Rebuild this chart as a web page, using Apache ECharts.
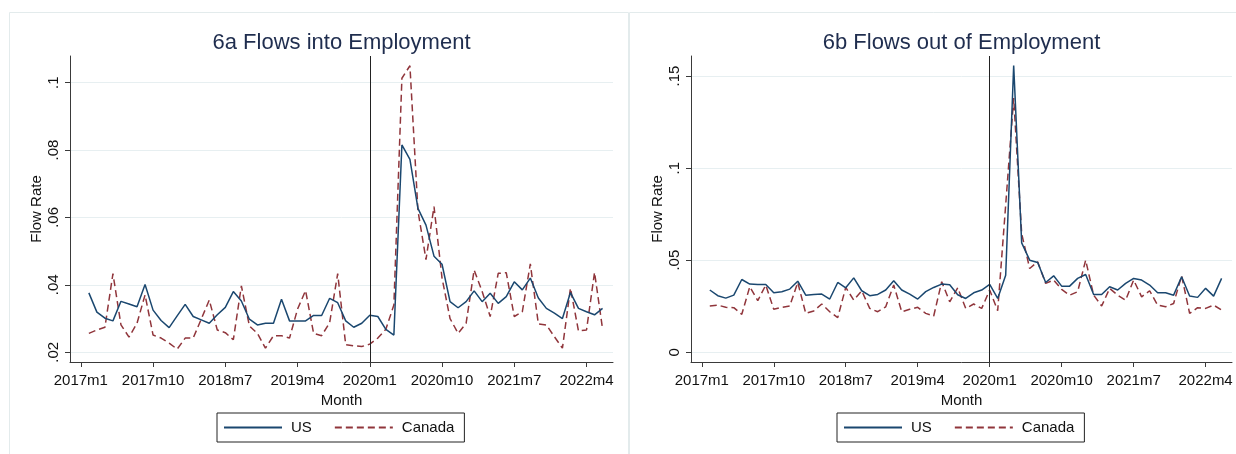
<!DOCTYPE html>
<html>
<head>
<meta charset="utf-8">
<script src="https://cdn.jsdelivr.net/npm/echarts@6/dist/echarts.min.js"></script>
<style>
  html, body { margin: 0; padding: 0; background: #ffffff; }
  #chart { width: 1236px; height: 454px; }
</style>
</head>
<body>
<div id="chart"></div>
<script>
// Monthly observations, 2017m2 .. 2022m6
const months = [
  '2017m2','2017m3','2017m4','2017m5','2017m6','2017m7','2017m8','2017m9','2017m10','2017m11','2017m12',
  '2018m1','2018m2','2018m3','2018m4','2018m5','2018m6','2018m7','2018m8','2018m9','2018m10','2018m11','2018m12',
  '2019m1','2019m2','2019m3','2019m4','2019m5','2019m6','2019m7','2019m8','2019m9','2019m10','2019m11','2019m12',
  '2020m1','2020m2','2020m3','2020m4','2020m5','2020m6','2020m7','2020m8','2020m9','2020m10','2020m11','2020m12',
  '2021m1','2021m2','2021m3','2021m4','2021m5','2021m6','2021m7','2021m8','2021m9','2021m10','2021m11','2021m12',
  '2022m1','2022m2','2022m3','2022m4','2022m5','2022m6'
];

// x-axis tick labels and the reference month marked by a vertical line
const tickMonths = ['2017m1','2017m10','2018m7','2019m4','2020m1','2020m10','2021m7','2022m4'];
const breakMonth = '2020m1';

// 6a: flows into employment
const intoUS = [
  0.0376,0.0319,0.0301,0.0293,0.0351,0.0343,0.0335,0.0401,0.0325,0.0294,0.0273,
  0.0308,0.0342,0.0306,0.0296,0.0286,0.0311,0.0333,0.0380,0.0352,0.0298,0.0281,0.0286,
  0.0286,0.0357,0.0293,0.0293,0.0293,0.0309,0.0309,0.0360,0.0347,0.0293,0.0274,0.0286,
  0.0310,0.0306,0.0268,0.0251,0.0815,0.0772,0.0627,0.0577,0.0485,0.0461,0.0350,0.0332,
  0.0350,0.0382,0.0350,0.0375,0.0345,0.0365,0.0409,0.0385,0.0420,0.0361,0.0330,0.0316,
  0.0300,0.0377,0.0330,0.0320,0.0311,0.0330
];
const intoCanada = [
  0.0256,0.0266,0.0274,0.0433,0.0281,0.0245,0.0286,0.0370,0.0251,0.0242,0.0227,
  0.0209,0.0242,0.0242,0.0298,0.0355,0.0266,0.0258,0.0237,0.0397,0.0278,0.0256,0.0212,
  0.0249,0.0249,0.0242,0.0328,0.0383,0.0256,0.0249,0.0288,0.0433,0.0222,0.0219,0.0217,
  0.0224,0.0242,0.0268,0.0340,0.1013,0.1050,0.0620,0.0475,0.0632,0.0420,0.0300,0.0256,
  0.0286,0.0444,0.0380,0.0306,0.0434,0.0436,0.0306,0.0320,0.0462,0.0284,0.0281,0.0246,
  0.0212,0.0390,0.0263,0.0266,0.0437,0.0269
];

// 6b: flows out of employment
const outUS = [
  0.0338,0.0307,0.0294,0.0310,0.0395,0.0370,0.0368,0.0368,0.0323,0.0329,0.0343,
  0.0386,0.0310,0.0314,0.0316,0.0289,0.0379,0.0350,0.0404,0.0334,0.0307,0.0314,0.0338,
  0.0388,0.0338,0.0316,0.0289,0.0329,0.0352,0.0370,0.0367,0.0312,0.0292,0.0323,0.0338,
  0.0368,0.0292,0.0418,0.1557,0.0594,0.0500,0.0487,0.0379,0.0415,0.0359,0.0359,0.0401,
  0.0422,0.0314,0.0314,0.0356,0.0338,0.0374,0.0401,0.0392,0.0365,0.0323,0.0323,0.0310,
  0.0410,0.0305,0.0298,0.0347,0.0305,0.0401
];
const outCanada = [
  0.0251,0.0256,0.0244,0.0242,0.0206,0.0356,0.0280,0.0365,0.0233,0.0244,0.0251,
  0.0379,0.0211,0.0224,0.0262,0.0220,0.0188,0.0352,0.0283,0.0334,0.0238,0.0220,0.0247,
  0.0365,0.0220,0.0233,0.0244,0.0211,0.0197,0.0383,0.0274,0.0350,0.0238,0.0262,0.0238,
  0.0338,0.0226,0.0800,0.1380,0.0644,0.0455,0.0491,0.0374,0.0392,0.0341,0.0310,0.0329,
  0.0500,0.0310,0.0251,0.0347,0.0310,0.0283,0.0392,0.0301,0.0334,0.0256,0.0247,0.0265,
  0.0415,0.0211,0.0242,0.0238,0.0256,0.0229
];

// y-axis tick values for each panel
const intoTicks = [0.02, 0.04, 0.06, 0.08, 0.1];
const outTicks = [0, 0.05, 0.1, 0.15];

const FONT = '"Liberation Sans", Arial, Helvetica, sans-serif';
const US_COLOR = '#1a476f';
const CA_COLOR = '#90353b';
const AXIS_COLOR = '#3a3a3a';
const GRID_COLOR = '#e7eff1';

// "2019m4" -> months since 2017m1
function monthIndex(label) {
  const parts = label.split('m');
  return (Number(parts[0]) - 2017) * 12 + (Number(parts[1]) - 1);
}
const monthLabelByIndex = {};
tickMonths.forEach(function (m) { monthLabelByIndex[monthIndex(m)] = m; });

// Stata-style numbers: .02, .1, 0
function fmtRate(v) {
  if (Math.abs(v) < 1e-12) return '0';
  return String(+v.toFixed(4)).replace(/^0\./, '.');
}

function pairs(values) {
  return values.map(function (v, i) { return [monthIndex(months[i]), v]; });
}

function xAxisFor(gridIndex) {
  return {
    type: 'value',
    gridIndex: gridIndex,
    min: -1.35,
    max: 66.3,
    name: 'Month',
    nameLocation: 'middle',
    nameGap: 25,
    nameTextStyle: { fontFamily: FONT, fontSize: 15, color: '#111' },
    axisLine: { show: true, onZero: false, lineStyle: { color: AXIS_COLOR, width: 1 } },
    axisTick: { show: true, length: 5, inside: false, customValues: tickMonths.map(monthIndex),
                lineStyle: { color: AXIS_COLOR, width: 1 } },
    axisLabel: {
      customValues: tickMonths.map(monthIndex),
      formatter: function (v) { return monthLabelByIndex[Math.round(v)] || ''; },
      fontFamily: FONT, fontSize: 15, color: '#111', margin: 11,
      showMinLabel: true, showMaxLabel: true, hideOverlap: false
    },
    splitLine: { show: false }
  };
}

function yAxisFor(gridIndex, lo, hi, ticks) {
  return {
    type: 'value',
    gridIndex: gridIndex,
    min: lo,
    max: hi,
    name: 'Flow Rate',
    nameLocation: 'middle',
    nameGap: 26,
    nameRotate: 90,
    nameTextStyle: { fontFamily: FONT, fontSize: 15, color: '#111' },
    axisLine: { show: true, onZero: false, lineStyle: { color: AXIS_COLOR, width: 1 } },
    axisTick: { show: true, length: 5, inside: false, customValues: ticks,
                lineStyle: { color: AXIS_COLOR, width: 1 } },
    axisLabel: {
      customValues: ticks,
      formatter: fmtRate,
      rotate: 90,
      fontFamily: FONT, fontSize: 15, color: '#111', margin: 9,
      showMinLabel: true, showMaxLabel: true
    },
    splitLine: { show: true, lineStyle: { color: GRID_COLOR, width: 1 } }
  };
}

function seriesFor(gridIndex, us, ca) {
  return [
    {
      name: 'US', type: 'line', xAxisIndex: gridIndex, yAxisIndex: gridIndex,
      data: pairs(us), symbol: 'none', z: 3,
      lineStyle: { color: US_COLOR, width: 1.5 }, itemStyle: { color: US_COLOR },
      markLine: {
        silent: true, symbol: 'none', animation: false,
        label: { show: false },
        lineStyle: { color: '#222', width: 1, type: 'solid' },
        data: [{ xAxis: monthIndex(breakMonth) }]
      }
    },
    {
      name: 'Canada', type: 'line', xAxisIndex: gridIndex, yAxisIndex: gridIndex,
      data: pairs(ca), symbol: 'none', z: 2,
      lineStyle: { color: CA_COLOR, width: 1.5, type: [7, 4] }, itemStyle: { color: CA_COLOR }
    }
  ];
}

function legendAt(left) {
  return {
    left: left, top: 413, orient: 'horizontal',
    data: ['US', 'Canada'],
    itemWidth: 58, itemHeight: 14, itemGap: 22,
    padding: [7, 10, 7, 6],
    borderColor: '#222', borderWidth: 1, borderRadius: 0,
    selectedMode: false,
    // line samples only, no marker dot on them
    itemStyle: { opacity: 0 },
    textStyle: { fontFamily: FONT, fontSize: 15, color: '#111', padding: [0, 0, 0, 4] }
  };
}

const chart = echarts.init(document.getElementById('chart'), null, { renderer: 'canvas' });

chart.setOption({
  animation: false,
  backgroundColor: '#ffffff',
  graphic: [
    { type: 'rect', silent: true, z: -10,
      shape: { x: 9.5, y: 12.5, width: 619, height: 460 },
      style: { fill: 'none', stroke: '#e3ebec', lineWidth: 1 } },
    { type: 'rect', silent: true, z: -10,
      shape: { x: 629.5, y: 12.5, width: 620, height: 460 },
      style: { fill: 'none', stroke: '#e3ebec', lineWidth: 1 } }
  ],
  title: [
    { text: '6a Flows into Employment', left: 341.5, top: 32, textAlign: 'center', padding: 0,
      textStyle: { fontFamily: FONT, fontSize: 22, fontWeight: 'normal', color: '#1f2d4e' } },
    { text: '6b Flows out of Employment', left: 961.5, top: 32, textAlign: 'center', padding: 0,
      textStyle: { fontFamily: FONT, fontSize: 22, fontWeight: 'normal', color: '#1f2d4e' } }
  ],
  legend: [legendAt(217), legendAt(837)],
  grid: [
    { left: 70, top: 56, width: 543, height: 306, containLabel: false },
    { left: 691, top: 56, width: 541, height: 306, containLabel: false }
  ],
  xAxis: [xAxisFor(0), xAxisFor(1)],
  yAxis: [
    yAxisFor(0, 0.0171, 0.1079, intoTicks),
    yAxisFor(1, -0.0053, 0.1609, outTicks)
  ],
  series: seriesFor(0, intoUS, intoCanada).concat(seriesFor(1, outUS, outCanada))
});
</script>
</body>
</html>
